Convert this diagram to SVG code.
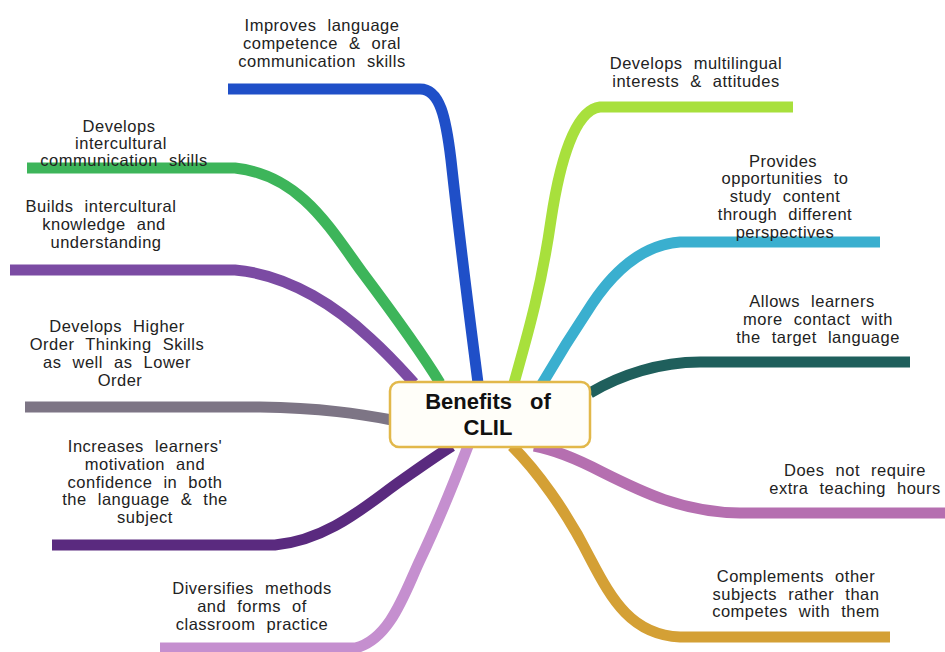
<svg xmlns="http://www.w3.org/2000/svg" width="945" height="652" viewBox="0 0 945 652">
<style>
.br{fill:none;stroke-width:11;stroke-linecap:butt;stroke-linejoin:round}
.lb{font-family:"Liberation Sans",Arial,sans-serif;font-size:16.5px;fill:#222;text-anchor:middle;letter-spacing:0.5px;word-spacing:6px}
.hub{font-family:"Liberation Sans",Arial,sans-serif;font-size:22px;font-weight:bold;fill:#111;text-anchor:middle;word-spacing:12px}
</style>
<rect width="945" height="652" fill="#ffffff"/>
<g id="connectors">
<path class="br" stroke="#1f4fc8" d="M228,89 H420 C440,89 446,118 451,160 C462,260 470,320 478,383"/>
<path class="br" stroke="#3db55a" d="M27,168 H235 C300,175 330,228 362,272 C392,312 420,350 440,383"/>
<path class="br" stroke="#7b4ba3" d="M10,270 H235 C292,275 340,310 370,338 C392,358 402,370 414,383"/>
<path class="br" stroke="#7d7585" d="M25,407 H260 C322,408 360,414 392,420"/>
<path class="br" stroke="#5a2a7f" d="M52,545 H275 C330,540 370,502 402,480 C422,466 436,456 452,446"/>
<path class="br" stroke="#c58fcf" d="M160,648 H355 C390,640 405,592 420,560 C440,518 455,480 468,446"/>
<path class="br" stroke="#a8e03c" d="M793,107 H600 C575,110 560,160 551,220 C541,290 526,340 514,383"/>
<path class="br" stroke="#3aafcf" d="M880,242 H680 C640,245 612,274 592,304 C572,334 556,360 542,384"/>
<path class="br" stroke="#1f5f5c" d="M910,362 H700 C660,362 620,375 590,393"/>
<path class="br" stroke="#b56fb0" d="M945,513 H740 C682,512 642,492 602,472 C577,459 556,450 534,446"/>
<path class="br" stroke="#d4a035" d="M890,637 H680 C632,635 612,600 591,560 C566,510 536,470 512,446"/>
</g>
<g id="hub">
<rect x="390" y="382" width="200" height="65" rx="9" fill="#fffef9" stroke="#e2b84a" stroke-width="2.5"/>
<text class="hub" x="488" y="409">Benefits of</text>
<text class="hub" x="488" y="435">CLIL</text>
</g>
<g id="n1"><text class="lb" x="322"><tspan x="322" y="31">Improves language</tspan><tspan x="322" y="49">competence &amp; oral</tspan><tspan x="322" y="67">communication skills</tspan></text></g>
<g id="n2"><text class="lb" x="121"><tspan x="119" y="132">Develops</tspan><tspan x="121" y="149">intercultural</tspan><tspan x="124" y="166">communication skills</tspan></text></g>
<g id="n3"><text class="lb" x="102"><tspan x="101" y="212">Builds intercultural</tspan><tspan x="104" y="230">knowledge and</tspan><tspan x="106" y="248">understanding</tspan></text></g>
<g id="n4"><text class="lb" x="117"><tspan x="117" y="332">Develops Higher</tspan><tspan x="117" y="350">Order Thinking Skills</tspan><tspan x="117" y="368">as well as Lower</tspan><tspan x="120" y="386">Order</tspan></text></g>
<g id="n5"><text class="lb" x="145"><tspan x="145" y="452">Increases learners'</tspan><tspan x="145" y="470">motivation and</tspan><tspan x="145" y="488">confidence in both</tspan><tspan x="145" y="505">the language &amp; the</tspan><tspan x="145" y="523">subject</tspan></text></g>
<g id="n6"><text class="lb" x="252"><tspan x="252" y="594">Diversifies methods</tspan><tspan x="252" y="612">and forms of</tspan><tspan x="252" y="630">classroom practice</tspan></text></g>
<g id="n7"><text class="lb" x="696"><tspan x="696" y="69">Develops multilingual</tspan><tspan x="696" y="87">interests &amp; attitudes</tspan></text></g>
<g id="n8"><text class="lb" x="785"><tspan x="783" y="167">Provides</tspan><tspan x="785" y="184">opportunities to</tspan><tspan x="785" y="202">study content</tspan><tspan x="785" y="220">through different</tspan><tspan x="785" y="238">perspectives</tspan></text></g>
<g id="n9"><text class="lb" x="818"><tspan x="812" y="307">Allows learners</tspan><tspan x="818" y="325">more contact with</tspan><tspan x="818" y="343">the target language</tspan></text></g>
<g id="n10"><text class="lb" x="855"><tspan x="855" y="476">Does not require</tspan><tspan x="855" y="494">extra teaching hours</tspan></text></g>
<g id="n11"><text class="lb" x="796"><tspan x="796" y="582">Complements other</tspan><tspan x="796" y="600">subjects rather than</tspan><tspan x="796" y="617">competes with them</tspan></text></g>
</svg>
